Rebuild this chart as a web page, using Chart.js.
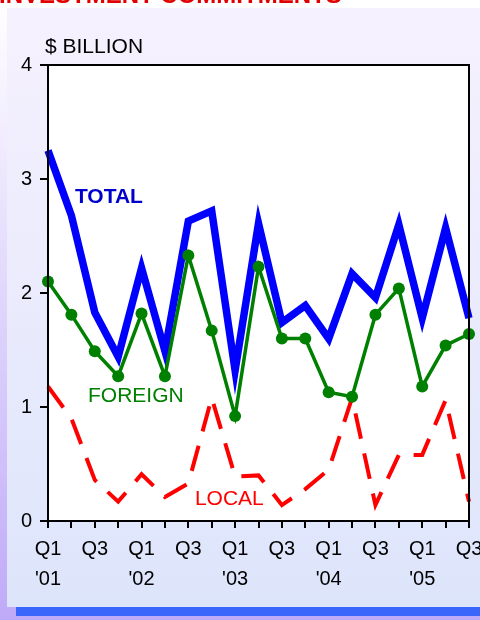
<!DOCTYPE html>
<html>
<head>
<meta charset="utf-8">
<script src="https://cdn.jsdelivr.net/npm/chart.js@4/dist/chart.umd.min.js"></script>
<style>
  html, body { margin: 0; padding: 0; background: #fff; }
  #wrap { position: relative; width: 480px; height: 620px; }
  canvas { display: block; }
</style>
</head>
<body>
<div id="wrap"><canvas id="c" width="480" height="620"></canvas></div>
<script>
// ---- data ----
const categories = ["Q1 '01","Q2 '01","Q3 '01","Q4 '01","Q1 '02","Q2 '02","Q3 '02","Q4 '02",
  "Q1 '03","Q2 '03","Q3 '03","Q4 '03","Q1 '04","Q2 '04","Q3 '04","Q4 '04","Q1 '05","Q2 '05","Q3 '05"];
const quarterTicks = ["Q1","","Q3","","Q1","","Q3","","Q1","","Q3","","Q1","","Q3","","Q1","","Q3"];
const yearTicks    = ["'01","","","","'02","","","","'03","","","","'04","","","","'05","",""];
const totalValues   = [3.25,2.68,1.83,1.44,2.22,1.49,2.63,2.72,1.32,2.61,1.74,1.89,1.60,2.17,1.96,2.60,1.78,2.57,1.78];
const foreignValues = [2.10,1.81,1.49,1.27,1.82,1.27,2.33,1.67,0.92,2.23,1.60,1.60,1.13,1.09,1.81,2.04,1.18,1.54,1.64];
const localValues   = [1.18,0.90,0.36,0.17,0.41,0.21,0.33,1.08,0.39,0.40,0.14,0.28,0.45,1.08,0.14,0.58,0.58,1.06,0.17];
const yTicks = [0,1,2,3,4];
const titleText = "INVESTMENT COMMITMENTS";
const unitText = "$ BILLION";

const FONT = '"Liberation Sans", Arial, sans-serif';

const decorPlugin = {
  id: 'decor',
  beforeDraw(chart) {
    const ctx = chart.ctx, W = chart.width, H = chart.height, a = chart.chartArea;
    ctx.save();
    let g = ctx.createLinearGradient(0, 0, 0, H);
    g.addColorStop(0, '#ffffff');
    g.addColorStop(1, '#bfaaf8');
    ctx.fillStyle = g; ctx.fillRect(0, 0, W, H);
    g = ctx.createLinearGradient(0, 8, 0, 607);
    g.addColorStop(0, '#f6f1fe');
    g.addColorStop(1, '#dde5fb');
    ctx.fillStyle = g; ctx.fillRect(7, 8, W - 7, 599);
    ctx.fillStyle = '#3a66fc'; ctx.fillRect(16, 607, W - 16, 9);
    ctx.fillStyle = '#ffffff'; ctx.fillRect(a.left, a.top, a.right - a.left, a.bottom - a.top);
    ctx.fillStyle = '#e00000';
    ctx.font = 'bold 24px ' + FONT;
    ctx.textBaseline = 'alphabetic'; ctx.textAlign = 'left';
    ctx.fillText(titleText, -1, 3);
    ctx.restore();
  },
  afterDatasetsDraw(chart, args, opts) {
    const ctx = chart.ctx, a = chart.chartArea;
    const xs = chart.scales.x, ys = chart.scales.y;
    ctx.save();
    ctx.strokeStyle = '#000'; ctx.lineWidth = 2;
    ctx.strokeRect(a.left, a.top, a.right - a.left, a.bottom - a.top);
    ctx.textBaseline = 'alphabetic'; ctx.textAlign = 'left';
    ctx.fillStyle = '#000'; ctx.font = '21px ' + FONT;
    ctx.fillText(unitText, a.left - 3, a.top - 12);
    for (const l of opts.labels) {
      ctx.fillStyle = l.color;
      ctx.font = (l.bold ? 'bold ' : '') + '21px ' + FONT;
      ctx.fillText(l.text, xs.getPixelForValue(l.x), ys.getPixelForValue(l.y));
    }
    ctx.restore();
  }
};

new Chart(document.getElementById('c'), {
  type: 'line',
  data: {
    labels: categories,
    datasets: [
      { label: 'FOREIGN', data: foreignValues, borderColor: '#008000', backgroundColor: '#008000',
        borderWidth: 3.5, pointRadius: 6, pointBorderWidth: 0, pointBackgroundColor: '#008000', tension: 0 },
      { label: 'TOTAL', data: totalValues, borderColor: '#0000ff', borderWidth: 7.5, pointRadius: 0,
        borderJoinStyle: 'miter', tension: 0 },
      { label: 'LOCAL', data: localValues, borderColor: '#ff0000', borderWidth: 4, borderDash: [26, 15],
        pointRadius: 0, tension: 0 }
    ]
  },
  options: {
    responsive: false,
    animation: false,
    devicePixelRatio: 1,
    layout: { padding: { left: 0, top: 65, right: 11, bottom: 0 } },
    plugins: {
      legend: { display: false },
      tooltip: { enabled: false },
      decor: {
        labels: [
          { text: 'TOTAL', x: 1.15, y: 2.79, color: '#0000cc', bold: true },
          { text: 'FOREIGN', x: 1.71, y: 1.04, color: '#008000', bold: false },
          { text: 'LOCAL', x: 6.28, y: 0.14, color: '#ff0000', bold: false }
        ]
      }
    },
    scales: {
      x: {
        type: 'category',
        offset: false,
        border: { display: false },
        grid: { drawOnChartArea: false, drawTicks: true, tickLength: 7, color: '#000', lineWidth: 2, offset: false },
        ticks: {
          autoSkip: false, maxRotation: 0, minRotation: 0, padding: 6, color: '#000',
          font: { family: FONT, size: 20, lineHeight: 1.5 },
          callback: (v, i) => quarterTicks[i] ? [quarterTicks[i], yearTicks[i]] : ''
        },
        afterFit(s) { s.height = 99; s.paddingLeft = 0; s.paddingRight = 0; }
      },
      y: {
        min: 0, max: 4,
        border: { display: false },
        grid: { drawOnChartArea: false, drawTicks: true, tickLength: 8, color: '#000', lineWidth: 2 },
        afterBuildTicks(s) { s.ticks = yTicks.map(v => ({ value: v })); },
        ticks: { padding: 8, color: '#000', font: { family: FONT, size: 20 } },
        afterFit(s) { s.width = 48; s.paddingTop = 0; s.paddingBottom = 0; }
      }
    }
  },
  plugins: [decorPlugin]
});
</script>
</body>
</html>
